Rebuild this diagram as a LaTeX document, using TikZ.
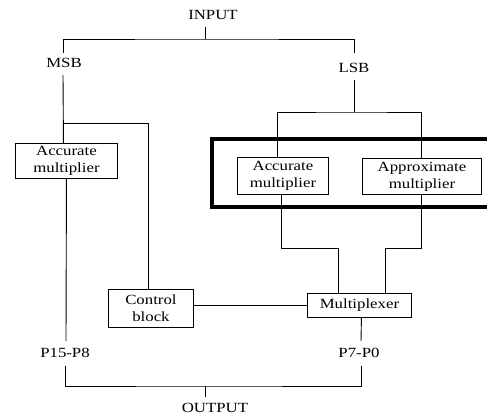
\documentclass[tikz,border=0pt]{standalone}
\usepackage{fontspec}
\setmainfont{Liberation Serif}[FakeStretch=1.2]
\begin{document}
\begin{tikzpicture}[x=1pt,y=-1pt,
  every node/.style={font=\fontsize{14}{17}\selectfont, inner sep=0pt},
  blk/.style={draw, line width=0.9pt, align=center, anchor=north west},
  wire/.style={line width=0.9pt}]
\useasboundingbox (0,0) rectangle (487,416);
% labels
\node (input) at (213,15) {INPUT};
\node (msb) at (64,63) {MSB};
\node (lsb) at (354,68) {LSB};
\node (p15) at (65,353) {P15-P8};
\node (p7) at (359,353) {P7-P0};
\node (output) at (215,408) {OUTPUT};
% blocks
\node[blk, minimum width=102pt, minimum height=35pt] (accL) at (15,143) {Accurate\\multiplier};
\node[blk, minimum width=85pt, minimum height=38pt] (ctrl) at (108,289) {Control\\block};
\node[blk, minimum width=91pt, minimum height=37pt] (accM) at (237,157) {Accurate\\multiplier};
\node[blk, minimum width=119pt, minimum height=36pt] (approx) at (362,158) {Approximate\\multiplier};
\node[blk, minimum width=104pt, minimum height=24pt] (mux) at (307,293) {Multiplexer};
% thick frame
\draw[line width=3.5pt] (212,139) rectangle (500,207);
% coordinates
\coordinate (inb) at (205,27);
\coordinate (split) at (205,39);
\coordinate (msbt) at (63,53);
\coordinate (lsbt) at (354,53);
\coordinate (msbb) at (63,75);
\coordinate (lsbb) at (354,80);
\coordinate (lsbsplit) at (354,112);
\coordinate (br) at (63,123);
\coordinate (p15t) at (66,341);
\coordinate (p15b) at (65,366);
\coordinate (p7t) at (361,341);
\coordinate (p7b) at (361,366);
\coordinate (join) at (205,386);
\coordinate (outt) at (205,397);
% wires
\draw[wire] (inb) -- (split);
\draw[wire] (msbt) |- (split) -| (lsbt);
\draw[wire] (msbb) -- ([xshift=-3pt]accL.north);
\draw[wire] (br) -| ([xshift=-3pt]ctrl.north);
\draw[wire] (lsbb) -- (lsbsplit);
\draw[wire] ([xshift=-6pt]accM.north) |- (lsbsplit) -| ([xshift=-1pt]approx.north);
\draw[wire] (accL.south) -- (p15t);
\draw[wire] ([xshift=-2pt]accM.south) -- ++(0,54) -| ([xshift=-21pt]mux.north);
\draw[wire] ([xshift=-1pt]approx.south) -- ++(0,54) -| ([xshift=26pt]mux.north);
\draw[wire] (ctrl.east |- mux.west) -- (mux.west);
\draw[wire] ([xshift=2pt]mux.south) -- (p7t);
\draw[wire] (p15b) |- (join) -| (p7b);
\draw[wire] (join) -- (outt);
\end{tikzpicture}
\end{document}
